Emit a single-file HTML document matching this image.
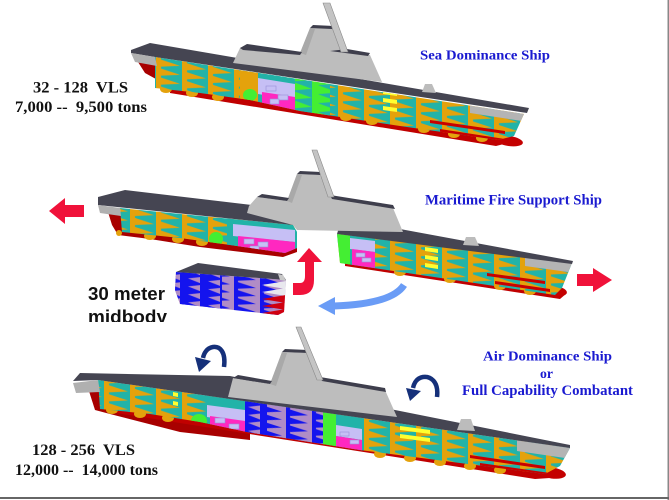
<!DOCTYPE html>
<html>
<head>
<meta charset="utf-8">
<style>
html,body{margin:0;padding:0;background:#fff;}
body{width:669px;height:500px;overflow:hidden;}
svg{display:block;}
.t{font-family:"Liberation Serif",serif;font-weight:bold;}
.b{fill:#1a1ad0;}
.k{fill:#111;}
.s{font-family:"Liberation Sans",sans-serif;font-weight:bold;fill:#111;}
</style>
</head>
<body>
<svg width="669" height="500" viewBox="0 0 669 500" xmlns="http://www.w3.org/2000/svg">
<defs>
  <pattern id="tri" patternUnits="userSpaceOnUse" width="26" height="9" patternTransform="skewY(8)">
    <rect width="26" height="9" fill="#22b3a8"/>
    <polygon points="0,0 24,4.5 0,9" fill="#e4a20c"/>
    <rect width="5" height="9" fill="#e4a20c"/>
  </pattern>
  <pattern id="blu" patternUnits="userSpaceOnUse" width="26" height="8" patternTransform="skewY(8)">
    <rect width="26" height="8" fill="#b08cc6"/>
    <polygon points="0,0 22,4 0,8" fill="#1414ee"/>
    <rect width="4" height="8" fill="#1414ee"/>
  </pattern>
  <pattern id="blu2" patternUnits="userSpaceOnUse" width="20" height="8" patternTransform="skewY(8)">
    <rect width="20" height="8" fill="#1414ee"/>
    <polygon points="20,1 8,4 20,7" fill="#b08cc6"/>
  </pattern>
  <pattern id="grn" patternUnits="userSpaceOnUse" width="26" height="9" patternTransform="skewY(8)">
    <rect width="26" height="9" fill="#44ee33"/>
    <polygon points="26,0 6,4.5 26,9" fill="#22b3a8"/>
  </pattern>
  <clipPath id="c1"><polygon points="155,57 524,114 514,136 498,140 400,126 300,111 250,100 200,93 155,88"/></clipPath>
  <clipPath id="c2l"><polygon points="120,208 293,225 297,232 297,248 285,253 230,245 180,238 122,232"/></clipPath>
  <clipPath id="c2r"><polygon points="337,234 572,263 562,288 555,295 340,263"/></clipPath>
  <clipPath id="cm"><polygon points="176,272 286,280 284,312 278,315 180,304 175,290"/></clipPath>
  <clipPath id="c3"><polygon points="98,380 570,448 560,466 545,474 360,450 247,432 200,422 150,414 100,409"/></clipPath>
  <clipPath id="ctext"><rect x="0" y="0" width="669" height="322"/></clipPath>
</defs>

<!-- ================= SHIP 1 ================= -->
<polygon fill="#a80000" points="138,62 160,64 250,82 252,98 180,93 165,84 145,73"/>
<polygon fill="#c00000" points="170,86 505,136 508,143 496,146 170,93"/>
<ellipse cx="509" cy="141" rx="14" ry="5" fill="#c40000" transform="rotate(8 509 141)"/>
<g fill="#e4a20c">
  <ellipse cx="166" cy="89" rx="6" ry="4"/>
  <ellipse cx="192" cy="93" rx="6" ry="4"/>
  <ellipse cx="218" cy="97" rx="6" ry="4"/>
  <ellipse cx="346" cy="117" rx="6" ry="4"/>
  <ellipse cx="372" cy="121" rx="6" ry="4"/>
  <ellipse cx="424" cy="129" rx="6" ry="4"/>
  <ellipse cx="454" cy="134" rx="6" ry="4"/>
  <ellipse cx="482" cy="138" rx="6" ry="4"/>
</g>
<g clip-path="url(#c1)">
  <rect x="150" y="40" width="385" height="110" fill="url(#tri)"/>
  <rect x="240" y="40" width="18" height="110" fill="#e4a20c"/>
  <ellipse cx="250" cy="95" rx="7" ry="6" fill="#44ee33"/>
  <rect x="258" y="40" width="37" height="110" fill="#22b3a8"/>
  <polygon points="258,78 295,84 295,100 258,94" fill="#c6bff5"/>
  <polygon points="262,92 295,97 295,112 262,106" fill="#ff28c0"/>
  <rect x="266" y="86" width="10" height="5" fill="#c6bff5" stroke="#9a90d8" stroke-width="0.6"/>
  <rect x="278" y="95" width="10" height="5" fill="#c6bff5" stroke="#9a90d8" stroke-width="0.6"/>
  <rect x="270" y="99" width="9" height="5" fill="#c6bff5" stroke="#9a90d8" stroke-width="0.6"/>
  <rect x="295" y="40" width="35" height="110" fill="url(#grn)"/>
  <polygon points="383,90 397,92 397,96 383,94" fill="#ffff30"/>
  <polygon points="383,98 397,100 397,104 383,102" fill="#ffff30"/>
  <polygon points="383,106 397,108 397,112 383,110" fill="#ffff30"/>
  <polygon points="430,120 505,131 505,134 430,123" fill="#c80000"/>
  <polygon points="440,129 505,139 505,142 440,132" fill="#c80000"/>
  <polygon points="470,104 530,112 522,121 470,113" fill="#b4b4b4"/>
</g>
<polygon fill="#454552" points="131,50 150,43 529,108 527,113 155,57 131,53"/>
<polygon fill="#b0b0b0" points="131,53 155,57 157,66 135,62"/>
<polygon fill="#bcbcbc" points="422,92 425,84 432,84 436,93"/>
<!-- deckhouse 1 -->
<polygon fill="#bdbdbd" points="233,63 240,48 247,45 300,53 310,28 332,28 347,52 370,55 382,82"/>
<polygon fill="#a9a9a9" points="300,53 310,28 315,29 306,55"/>
<polygon fill="#3e3e4c" points="240,48 247,44 302,52 300,55 243,50"/>
<polygon fill="#3e3e4c" points="310,28 313,25 334,26 332,29"/>
<polygon fill="#3e3e4c" points="330,51 347,49 370,53 368,56"/>
<polygon fill="#c4c4c4" stroke="#8a8a8a" stroke-width="0.6" points="323,3 330,3 348,52 341,52"/>

<!-- ================= SHIP 2 (left piece) ================= -->
<polygon fill="#a80000" points="108,212 140,214 290,238 297,244 297,252 283,257 200,247 150,239 118,235 112,225"/>
<g fill="#e4a20c">
  <ellipse cx="150" cy="236" rx="6" ry="4"/>
  <ellipse cx="178" cy="239" rx="6" ry="4"/>
  <ellipse cx="202" cy="242" rx="6" ry="4"/>
</g>
<g clip-path="url(#c2l)">
  <rect x="115" y="195" width="185" height="70" fill="url(#tri)"/>
  <ellipse cx="216" cy="239" rx="7" ry="7" fill="#44ee33"/>
  <rect x="227" y="195" width="72" height="70" fill="#22b3a8"/>
  <polygon points="233,224 295,230 295,242 233,236" fill="#c6bff5"/>
  <polygon points="238,236 295,242 295,256 238,250" fill="#ff28c0"/>
  <rect x="244" y="239" width="10" height="5" fill="#c6bff5" stroke="#9a90d8" stroke-width="0.6"/>
  <rect x="258" y="242" width="10" height="5" fill="#c6bff5" stroke="#9a90d8" stroke-width="0.6"/>
  <rect x="250" y="246" width="9" height="4" fill="#c6bff5" stroke="#9a90d8" stroke-width="0.6"/>
</g>
<polygon fill="#454552" points="98,197 125,190 260,206 294,222 293,225 98,205"/>
<polygon fill="#b0b0b0" points="98,205 120,208 121,216 100,213"/>
<circle cx="119" cy="233" r="3" fill="#e4a20c"/>

<!-- ================= SHIP 2 (right piece) ================= -->
<polygon fill="#c00000" points="345,261 560,291 567,293 560,299 345,266"/>
<ellipse cx="555" cy="291" rx="12" ry="5" fill="#c40000" transform="rotate(8 555 291)"/>
<g fill="#e4a20c">
  <ellipse cx="400" cy="272" rx="6" ry="4"/>
  <ellipse cx="450" cy="279" rx="6" ry="4"/>
  <ellipse cx="500" cy="286" rx="6" ry="4"/>
  <ellipse cx="530" cy="291" rx="6" ry="4"/>
</g>
<g clip-path="url(#c2r)">
  <rect x="330" y="225" width="250" height="80" fill="url(#tri)"/>
  <rect x="335" y="225" width="15" height="80" fill="#44ee33"/>
  <rect x="350" y="225" width="25" height="80" fill="#22b3a8"/>
  <polygon points="350,238 375,241 375,252 350,249" fill="#c6bff5"/>
  <polygon points="352,249 375,252 375,268 352,265" fill="#ff28c0"/>
  <rect x="356" y="253" width="9" height="4" fill="#c6bff5" stroke="#9a90d8" stroke-width="0.6"/>
  <rect x="362" y="258" width="9" height="4" fill="#c6bff5" stroke="#9a90d8" stroke-width="0.6"/>
  <polygon points="425,247 438,249 438,253 425,251" fill="#ffff30"/>
  <polygon points="425,255 438,257 438,261 425,259" fill="#ffff30"/>
  <polygon points="425,263 438,265 438,269 425,267" fill="#ffff30"/>
  <polygon points="487,273 545,281 545,284 487,276" fill="#c80000"/>
  <polygon points="495,281 550,289 550,292 495,284" fill="#c80000"/>
  <polygon points="525,255 575,262 568,272 525,266" fill="#b4b4b4"/>
</g>
<polygon fill="#454552" points="340,224 400,229 573,261 572,264 337,234"/>
<polygon fill="#bcbcbc" points="463,245 466,237 475,237 479,246"/>

<!-- deckhouse 2 -->
<polygon fill="#bdbdbd" points="247,213 249,206 257,197 287,201 297,174 320,175 332,197 393,208 403,232 297,230 293,225"/>
<polygon fill="#a9a9a9" points="287,201 297,174 302,175 292,203"/>
<polygon fill="#3e3e4c" points="257,197 262,194 289,198 287,201"/>
<polygon fill="#3e3e4c" points="297,174 300,171 321,172 320,175"/>
<polygon fill="#3e3e4c" points="330,195 393,205 395,209 332,199"/>
<polygon fill="#c4c4c4" stroke="#8a8a8a" stroke-width="0.6" points="312,150 317,150 334,197 328,197"/>

<!-- ================= MIDBODY ================= -->
<g clip-path="url(#cm)">
  <rect x="170" y="265" width="120" height="55" fill="url(#blu)"/>
  <rect x="170" y="265" width="52" height="55" fill="url(#blu2)"/>
  <polygon points="286,281 262,285 286,289" fill="#e8e8ee"/>
  <polygon points="286,288 262,292 286,296" fill="#e8e8ee"/>
  <polygon points="286,295 262,299 286,303" fill="#d00010"/>
  <polygon points="286,302 262,306 286,310" fill="#d00010"/>
  <polygon points="286,309 262,313 286,317" fill="#d00010"/>
</g>
<polygon fill="#454552" points="176,272 198,263 282,274 286,280"/>
<polygon fill="#c8c8c8" points="278,274 283,275 286,281 280,280"/>

<!-- red up arrow -->
<path fill="#f0123a" d="M293,283 L300,283 Q305,283 305,276 L305,262 L297,262 L309,248 L322,262 L314,262 L314,280 Q314,295 300,295 L293,295 Z"/>
<!-- blue curved arrow -->
<path d="M404,285 Q392,304 334,306" stroke="#6a9cf6" stroke-width="7" fill="none"/>
<polygon fill="#6a9cf6" points="318,306 335,297 335,315"/>
<!-- left red arrow -->
<polygon fill="#f0123a" points="49,211 65,198 65,205 84,205 84,217 65,217 65,224"/>
<!-- right red arrow -->
<polygon fill="#f0123a" points="577,274 593,274 593,268 612,280 593,292 593,286 577,286"/>

<!-- ================= SHIP 3 ================= -->
<polygon fill="#a80000" points="88,388 100,385 250,415 250,440 180,432 110,414 95,410"/>
<polygon fill="#c00000" points="110,407 545,469 550,478 535,479 110,412"/>
<ellipse cx="552" cy="473" rx="14" ry="5.5" fill="#c40000" transform="rotate(8 552 473)"/>
<g fill="#e4a20c">
  <ellipse cx="112" cy="410" rx="6" ry="4"/>
  <ellipse cx="140" cy="414" rx="6" ry="4"/>
  <ellipse cx="168" cy="418" rx="6" ry="4"/>
  <ellipse cx="380" cy="454" rx="6" ry="4"/>
  <ellipse cx="410" cy="458" rx="6" ry="4"/>
  <ellipse cx="440" cy="462" rx="6" ry="4"/>
  <ellipse cx="470" cy="466" rx="6" ry="4"/>
  <ellipse cx="500" cy="470" rx="6" ry="4"/>
</g>
<g clip-path="url(#c3)">
  <rect x="95" y="370" width="480" height="115" fill="url(#tri)"/>
  <polygon points="173,392 178,393 178,397 173,396" fill="#ffff30"/>
  <polygon points="173,401 178,402 178,406 173,405" fill="#ffff30"/>
  <ellipse cx="199" cy="421" rx="8" ry="7" fill="#44ee33"/>
  <rect x="207" y="370" width="38" height="80" fill="#22b3a8"/>
  <polygon points="207,405 245,410 245,422 207,417" fill="#c6bff5"/>
  <polygon points="210,416 245,421 245,440 210,435" fill="#ff28c0"/>
  <rect x="215" y="418" width="10" height="5" fill="#c6bff5" stroke="#9a90d8" stroke-width="0.6"/>
  <rect x="229" y="424" width="10" height="5" fill="#c6bff5" stroke="#9a90d8" stroke-width="0.6"/>
  <rect x="245" y="370" width="78" height="90" fill="url(#blu)"/>
  <rect x="245" y="370" width="22" height="90" fill="url(#blu2)"/>
  <rect x="323" y="380" width="13" height="80" fill="#44ee33"/>
  <rect x="336" y="380" width="26" height="80" fill="#22b3a8"/>
  <polygon points="336,425 362,429 362,440 336,436" fill="#c6bff5"/>
  <polygon points="336,436 362,440 362,455 336,451" fill="#ff28c0"/>
  <rect x="340" y="432" width="9" height="4" fill="#c6bff5" stroke="#9a90d8" stroke-width="0.6"/>
  <rect x="350" y="440" width="9" height="4" fill="#c6bff5" stroke="#9a90d8" stroke-width="0.6"/>
  <polygon points="400,426 430,430 430,434 400,430" fill="#ffff30"/>
  <polygon points="400,434 430,438 430,442 400,438" fill="#ffff30"/>
  <polygon points="470,455 545,466 545,469 470,458" fill="#c80000"/>
  <polygon points="480,463 550,473 550,476 480,466" fill="#c80000"/>
  <polygon points="517,440 572,448 565,458 517,451" fill="#b4b4b4"/>
</g>
<polygon fill="#454552" points="73,381 80,373 230,376 395,410 570,445 570,448 98,380"/>
<polygon fill="#b0b0b0" points="73,383 98,380 100,392 76,393"/>
<polygon fill="#bcbcbc" points="457,430 461,419 471,419 475,431"/>
<!-- deckhouse 3 -->
<polygon fill="#bdbdbd" points="228,397 233,378 270,384 282,352 307,353 322,380 385,390 397,417"/>
<polygon fill="#a9a9a9" points="270,384 282,352 287,353 276,386"/>
<polygon fill="#3e3e4c" points="233,378 238,375 272,381 270,384"/>
<polygon fill="#3e3e4c" points="282,352 285,349 308,350 307,353"/>
<polygon fill="#3e3e4c" points="320,377 385,388 386,392 322,381"/>
<polygon fill="#c4c4c4" stroke="#8a8a8a" stroke-width="0.6" points="296,327 301,327 323,380 317,380"/>

<!-- navy curved arrows -->
<path d="M224,367 C226,352 220,346 213,347 C207,348 204,353 203,358" stroke="#15307a" stroke-width="4.5" fill="none"/>
<polygon fill="#15307a" points="195,357 211,361 199,372"/>
<path d="M437,397 C439,381 430,376 423,377 C417,378 414,383 413,388" stroke="#15307a" stroke-width="4.5" fill="none"/>
<polygon fill="#15307a" points="406,388 421,391 410,401"/>

<!-- ================= TEXT ================= -->
<text class="t b" x="420" y="59.5" font-size="14" textLength="130" lengthAdjust="spacingAndGlyphs">Sea Dominance Ship</text>
<text class="t k" x="33" y="92.5" font-size="16" textLength="95" lengthAdjust="spacingAndGlyphs">32 - 128&#160; VLS</text>
<text class="t k" x="15" y="112" font-size="16" textLength="132" lengthAdjust="spacingAndGlyphs">7,000 --&#160; 9,500 tons</text>
<text class="t b" x="425" y="204.5" font-size="14.5" textLength="177" lengthAdjust="spacingAndGlyphs">Maritime Fire Support Ship</text>
<text class="s" x="88" y="300" font-size="18.5" textLength="77" lengthAdjust="spacingAndGlyphs">30 meter</text>
<g clip-path="url(#ctext)">
<text class="s" x="88" y="323" font-size="18.5" textLength="79" lengthAdjust="spacingAndGlyphs">midbody</text>
</g>
<text class="t b" x="483" y="360.7" font-size="14" textLength="129" lengthAdjust="spacingAndGlyphs">Air Dominance Ship</text>
<text class="t b" x="540" y="378" font-size="14" textLength="13" lengthAdjust="spacingAndGlyphs">or</text>
<text class="t b" x="462" y="395" font-size="14.5" textLength="171" lengthAdjust="spacingAndGlyphs">Full Capability Combatant</text>
<text class="t k" x="32" y="455" font-size="16" textLength="103" lengthAdjust="spacingAndGlyphs">128 - 256&#160; VLS</text>
<text class="t k" x="15" y="475" font-size="16" textLength="143" lengthAdjust="spacingAndGlyphs">12,000 --&#160; 14,000 tons</text>

<!-- borders -->
<rect x="667.5" y="0" width="1.5" height="500" fill="#888"/>
<rect x="0" y="497" width="669" height="2" fill="#666"/>
</svg>
</body>
</html>
